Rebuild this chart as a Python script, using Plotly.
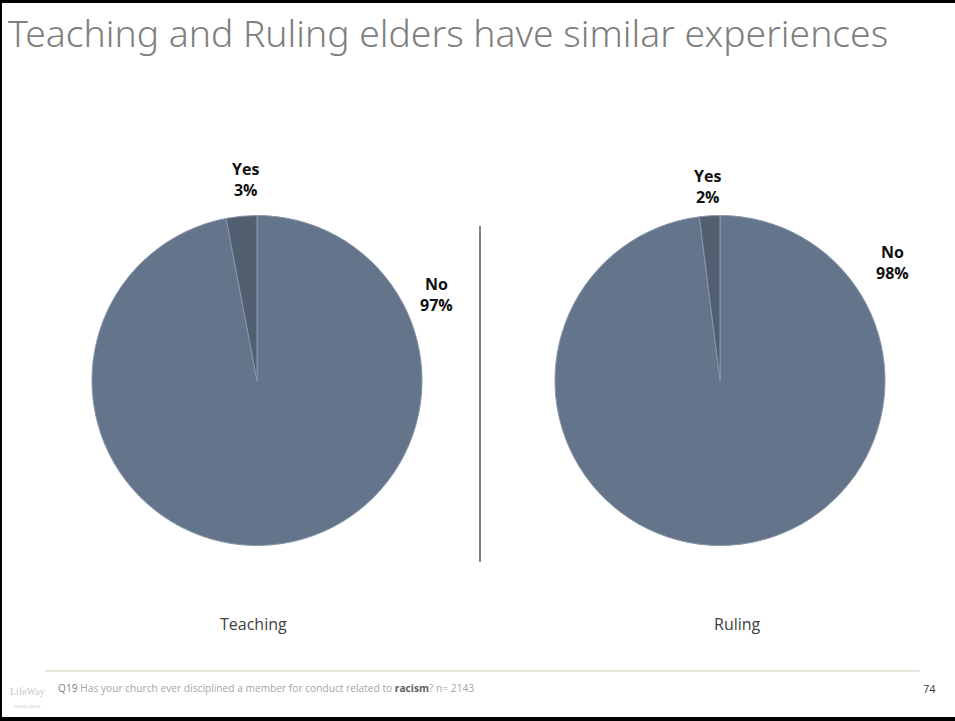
import plotly.graph_objects as go

title = "Teaching and Ruling elders have similar experiences"
groups = ["Teaching", "Ruling"]
answers = ["Yes", "No"]
teaching_pct = [3, 97]
ruling_pct = [2, 98]
footnote_q = "Q19"
footnote_text = "Has your church ever disciplined a member for conduct related to "
footnote_bold = "racism"
footnote_tail = "? n= 2143"
page_num = "74"

W, H = 955, 721
def px(x): return x / W
def py(y): return 1 - y / H

colors = {"Yes": "#525f71", "No": "#64748a"}

fig = go.Figure()
series = [teaching_pct, ruling_pct]
domains = [(92, 422), (555, 885)]
for vals, (x0, x1), g in zip(series, domains, groups):
    labs = answers[::-1]
    vs = vals[::-1]
    fig.add_trace(go.Pie(
        labels=labs, values=vs, sort=False, direction="clockwise",
        rotation=0, textinfo="none", hoverinfo="label+percent",
        marker=dict(colors=[colors[l] for l in labs], line=dict(color="#8796aa", width=1)),
        domain=dict(x=[px(x0), px(x1)], y=[py(546), py(215)]),
        showlegend=False, name=g,
    ))

ann = []
lab_font = dict(family="Open Sans, Noto Sans, sans-serif", size=16, color="#111111")
label_pos = [[(245, 179), (436, 294)], [(707, 186), (892, 262)]]
for vals, poss in zip(series, label_pos):
    for a, v, (x, y) in zip(answers, vals, poss):
        ann.append(dict(x=px(x), y=py(y), xref="paper", yref="paper",
                        text=f"<b>{a}<br>{v}%</b>", showarrow=False,
                        font=lab_font, xanchor="center", yanchor="middle"))

for g, x in zip(groups, [253, 737]):
    ann.append(dict(x=px(x), y=py(624), xref="paper", yref="paper", text=g,
                    showarrow=False, xanchor="center", yanchor="middle",
                    font=dict(family="Open Sans, Noto Sans, sans-serif", size=16, color="#404040")))

ann.append(dict(x=px(6), y=py(33), xref="paper", yref="paper", text=title,
                showarrow=False, xanchor="left", yanchor="middle",
                font=dict(family="Noto Sans, Open Sans, sans-serif", size=37.3, color="#7f7f7f", weight=300)))

ann.append(dict(x=px(56), y=py(688), xref="paper", yref="paper",
                text=f"<span style='color:#808080'>{footnote_q}</span> {footnote_text}<b><span style='color:#606060'>{footnote_bold}</span></b>{footnote_tail}",
                showarrow=False, xanchor="left", yanchor="middle",
                font=dict(family="Open Sans, Noto Sans, sans-serif", size=10.2, color="#a6a6a6")))
ann.append(dict(x=px(938), y=py(688), xref="paper", yref="paper", text=page_num,
                showarrow=False, xanchor="right", yanchor="middle",
                font=dict(family="Open Sans, Noto Sans, sans-serif", size=11, color="#404040")))
ann.append(dict(x=px(27), y=py(697), xref="paper", yref="paper",
                text="LifeWay<br><span style='font-size:5px'>RESEARCH</span>",
                showarrow=False, xanchor="center", yanchor="middle",
                font=dict(family="Liberation Serif, serif", size=10, color="#c8c8c8")))

shapes = [
    dict(type="line", xref="paper", yref="paper", x0=px(480), x1=px(480), y0=py(226), y1=py(562),
         line=dict(color="#7f7f7f", width=2)),
    dict(type="line", xref="paper", yref="paper", x0=px(45), x1=px(920), y0=py(671), y1=py(671),
         line=dict(color="#cfcfb8", width=1)),
    # slide border
    dict(type="rect", xref="paper", yref="paper", x0=0, x1=1, y0=0, y1=py(717),
         fillcolor="#000000", line=dict(width=0)),
    dict(type="rect", xref="paper", yref="paper", x0=0, x1=1, y0=py(3), y1=1,
         fillcolor="#000000", line=dict(width=0)),
    dict(type="rect", xref="paper", yref="paper", x0=0, x1=px(2), y0=0, y1=1,
         fillcolor="#000000", line=dict(width=0)),
]

fig.update_layout(width=W, height=H, margin=dict(l=0, r=0, t=0, b=0),
                  paper_bgcolor="white", plot_bgcolor="white",
                  annotations=ann, shapes=shapes)
fig.write_html("out.html", config={"displayModeBar": False},
               post_script="document.body.style.margin='0';document.body.style.overflow='hidden';")
